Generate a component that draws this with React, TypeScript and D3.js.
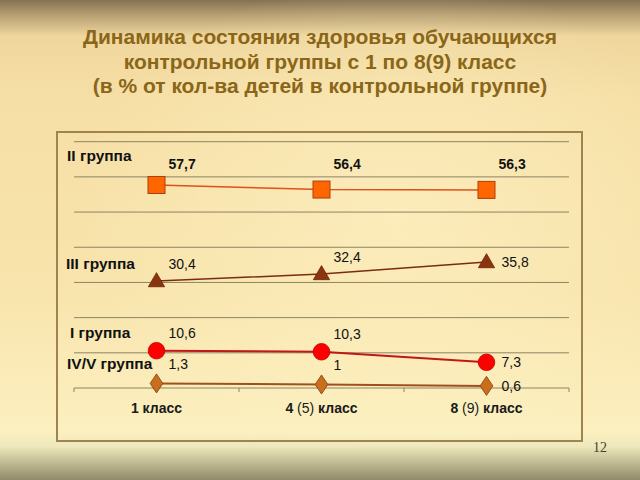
import React from "react";
import * as d3 from "d3";

const categories = ["1 класс", "4 (5) класс", "8 (9) класс"];
const seriesNames = ["II группа", "III группа", "I группа", "IV/V группа"];
const group2 = [57.7, 56.4, 56.3];
const group3 = [30.4, 32.4, 35.8];
const group1 = [10.6, 10.3, 7.3];
const group45 = [1.3, 1, 0.6];
const yTicks = [0, 10, 20, 30, 40, 50, 60, 70];
const titleLines = [
  "Динамика состояния здоровья обучающихся",
  "контрольной группы с 1 по 8(9) класс",
  "(в % от кол-ва детей в контрольной группе)",
];

type Style = { line: string; lw: number; fill: string; stroke: string; marker: string; bold: boolean; lastRight: boolean; nameDy: number; nameX: number };
const styles: Style[] = [
  { line: "#e0501a", lw: 1.5, fill: "#ff6600", stroke: "#a84010", marker: "square", bold: true, lastRight: false, nameDy: -24, nameX: 67 },
  { line: "#7a2c10", lw: 1.5, fill: "#8b3510", stroke: "#6a2508", marker: "triangle", bold: false, lastRight: true, nameDy: -12, nameX: 66 },
  { line: "#c01818", lw: 2, fill: "#ff0000", stroke: "#c00000", marker: "circle", bold: false, lastRight: true, nameDy: -13, nameX: 70 },
  { line: "#a0501c", lw: 2, fill: "#c86e1e", stroke: "#8a4410", marker: "diamond", bold: false, lastRight: true, nameDy: -14, nameX: 67 },
];

const fmt = (v: number) => String(v).replace(".", ",");

export default function App() {
  const W = 640, H = 480;
  const x0 = 74, x1 = 569;
  const x = d3.scaleBand<string>().domain(categories).range([x0, x1]).padding(0);
  const y = d3.scaleLinear().domain([0, 70]).range([388, 141.7]);
  const cx = (c: string) => (x(c) as number) + x.bandwidth() / 2;
  const series = [group2, group3, group1, group45];
  const line = d3.line<number>().x((_, i) => cx(categories[i])).y((v) => y(v));

  const marker = (kind: string, px: number, py: number, s: Style, key: string) => {
    if (kind === "square")
      return <rect key={key} x={px - 8.5} y={py - 8.5} width={17} height={17} fill={s.fill} stroke={s.stroke} strokeWidth={1} />;
    if (kind === "circle")
      return <circle key={key} cx={px} cy={py} r={8.3} fill={s.fill} stroke={s.stroke} strokeWidth={0.8} />;
    const sym = d3.symbol().type(kind === "triangle" ? d3.symbolTriangle : d3.symbolDiamond).size(kind === "triangle" ? 115 : 105)();
    return (
      <path key={key} d={sym as string} transform={`translate(${px},${py + (kind === "triangle" ? 1 : 0)})${kind === "diamond" ? " scale(1.15,1)" : ""}`}
        fill={s.fill} stroke={s.stroke} strokeWidth={0.8} />
    );
  };

  return (
    <svg width={W} height={H} style={{ position: "absolute", left: 0, top: 0 }} fontFamily="Liberation Sans, Arial, sans-serif">
      <defs>
        <linearGradient id="bg" x1="0" y1="0" x2="0" y2="1">
          <stop offset="0" stopColor="#857254" />
          <stop offset="0.03" stopColor="#b59d70" />
          <stop offset="0.075" stopColor="#efd69d" />
          <stop offset="0.2" stopColor="#f6dfa6" />
          <stop offset="0.6" stopColor="#f8e4ac" />
          <stop offset="0.9" stopColor="#fcf0c0" />
          <stop offset="0.93" stopColor="#eee8bc" />
          <stop offset="1" stopColor="#8f8a68" />
        </linearGradient>
        <radialGradient id="glow" cx="0.62" cy="0.45" r="0.5">
          <stop offset="0" stopColor="#fff4c8" stopOpacity="0.55" />
          <stop offset="1" stopColor="#fff4c8" stopOpacity="0" />
        </radialGradient>
      </defs>
      <rect x={0} y={0} width={W} height={H} fill="url(#bg)" />
      <rect x={0} y={0} width={W} height={H} fill="url(#glow)" />

      {titleLines.map((t, i) => (
        <text key={i} x={320} y={44 + i * 24.6} textAnchor="middle" fontSize={21} fontWeight="bold" fill="#8a6618">
          {t}
        </text>
      ))}

      <rect x={57} y={132} width={525} height={309} fill="none" stroke="#a08450" strokeWidth={2} />

      {yTicks.slice(1).map((t) => (
        <line key={t} x1={x0} x2={x1} y1={y(t)} y2={y(t)} stroke="#8c8462" strokeWidth={1} />
      ))}
      <line x1={x0} x2={x1} y1={y(0)} y2={y(0)} stroke="#8c8462" strokeWidth={1} />
      {[...categories.map((c) => x(c) as number), x1].map((t, i) => (
        <line key={i} x1={t} x2={t} y1={y(0)} y2={y(0) + 4} stroke="#8c8462" strokeWidth={1} />
      ))}

      {categories.map((c) => {
        const m = c.match(/^(\d+)( \(\d+\))? (.*)$/);
        return (
          <text key={c} x={cx(c)} y={413} textAnchor="middle" fontSize={14} fontWeight="bold" fill="#1a1a1a">
            {m ? (
              <>
                <tspan>{m[1]}</tspan>
                {m[2] ? <tspan fontWeight="normal">{m[2]}</tspan> : null}
                <tspan>{" " + m[3]}</tspan>
              </>
            ) : c}
          </text>
        );
      })}

      {series.map((vals, si) => {
        const s = styles[si];
        return (
          <g key={si}>
            <path d={line(vals) as string} fill="none" stroke={s.line} strokeWidth={s.lw} />
            {vals.map((v, i) => marker(s.marker, cx(categories[i]), y(v), s, `m${i}`))}
            {vals.map((v, i) => {
              const px = cx(categories[i]);
              const py = y(v);
              const right = s.lastRight && i === vals.length - 1;
              const ly = right ? py + 5 : si === 0 ? y(vals[0]) - 16 : py + s.nameDy;
              return (
                <text key={`l${i}`} x={px + (right ? 15 : 12)} y={ly}
                  fontSize={14} fontWeight={s.bold ? "bold" : "normal"} fill="#111">
                  {fmt(v)}
                </text>
              );
            })}
            <text x={s.nameX} y={y(vals[0]) + s.nameDy}
              fontSize={15.5} fontWeight="bold" fill="#111">
              {seriesNames[si]}
            </text>
          </g>
        );
      })}

      <text x={600} y={452} textAnchor="middle" fontSize={14} fontFamily="Liberation Serif, serif" fill="#4a3e28">12</text>
    </svg>
  );
}
